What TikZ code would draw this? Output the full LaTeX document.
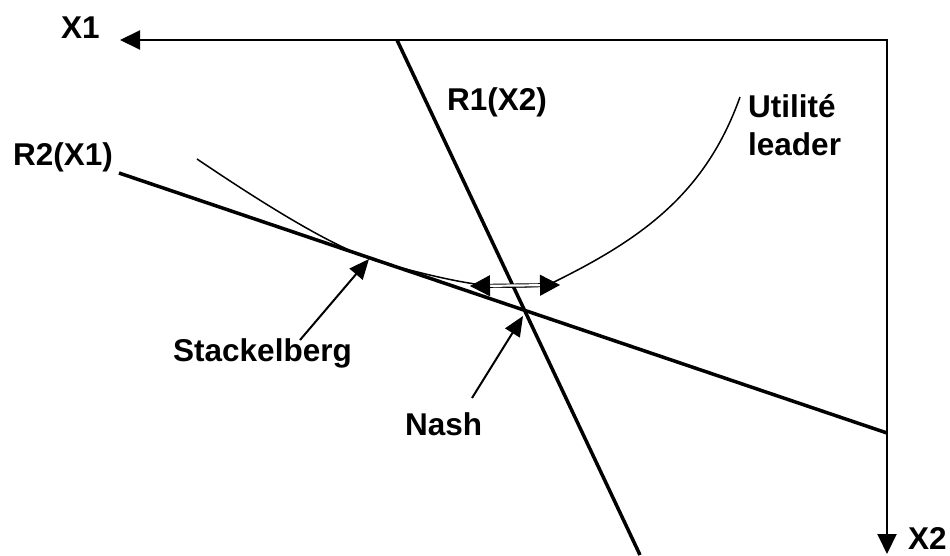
\documentclass[tikz,border=0pt]{standalone}
\usepackage{fontspec}
\setmainfont{Liberation Sans}
\usetikzlibrary{arrows.meta}
\begin{document}
\begin{tikzpicture}[x=1pt,y=-1pt,
  lbl/.style={inner sep=0pt, anchor=base west, font=\fontsize{31.5}{42}\selectfont\bfseries},
  axisline/.style={line width=2pt, line join=miter,
    {Triangle[length=20pt,width=19pt]}-{Triangle[length=20pt,width=19pt]}},
  respline/.style={line width=3.5pt},
  ptr/.style={line width=2pt, -{Triangle[length=20pt,width=17pt]}},
  utilcurve/.style={line width=1.5pt},
  dblarrow/.style={line width=0.9pt, double, double distance=2.2pt,
    {Triangle[length=20pt,width=21pt]}-{Triangle[length=20pt,width=21pt]}}
]
\useasboundingbox (0,0) rectangle (950,555);

% axes
\coordinate (X1tip) at (120,40);
\coordinate (O) at (887,40);
\coordinate (X2tip) at (887,554);
\draw[axisline] (X1tip) -- (O) -- (X2tip);

% reaction lines
\coordinate (R1a) at (397,40);
\coordinate (R1b) at (640,555);
\coordinate (R2a) at (119,173);
\coordinate (R2b) at (887,433);
\draw[respline] (R1a) -- (R1b);
\draw[respline] (R2a) -- (R2b);

% utility curve
\coordinate (Ua) at (197,159);
\coordinate (Ub) at (740,97);
\draw[utilcurve] (Ua) .. controls (280,215) and (340,250) .. (380,262)
  .. controls (430,276) and (480,288) .. (515,287)
  .. controls (530,287) and (540,286) .. (550,284)
  .. controls (640,240) and (705,195) .. (Ub);

% double arrow
\coordinate (DL) at (470,286);
\coordinate (DR) at (560,285);
\draw[dblarrow] (DL) -- (DR);

% pointers
\coordinate (Stail) at (300,340);
\coordinate (Stip) at (369,259);
\coordinate (Ntail) at (472,398);
\coordinate (Ntip) at (523,316);
\draw[ptr] (Stail) -- (Stip);
\draw[ptr] (Ntail) -- (Ntip);

% labels
\node[lbl] (lx1) at (61,38) {X1};
\node[lbl] (lx2) at (908,549) {X2};
\node[lbl] (lr2) at (13,165) {R2(X1)};
\node[lbl] (lr1) at (447,110) {R1(X2)};
\node[lbl] (lu1) at (748,117) {Utilité};
\node[lbl] (lu2) at (748,155) {leader};
\node[lbl] (ls) at (173,361) {Stackelberg};
\node[lbl] (ln) at (405,435) {Nash};
\end{tikzpicture}
\end{document}
